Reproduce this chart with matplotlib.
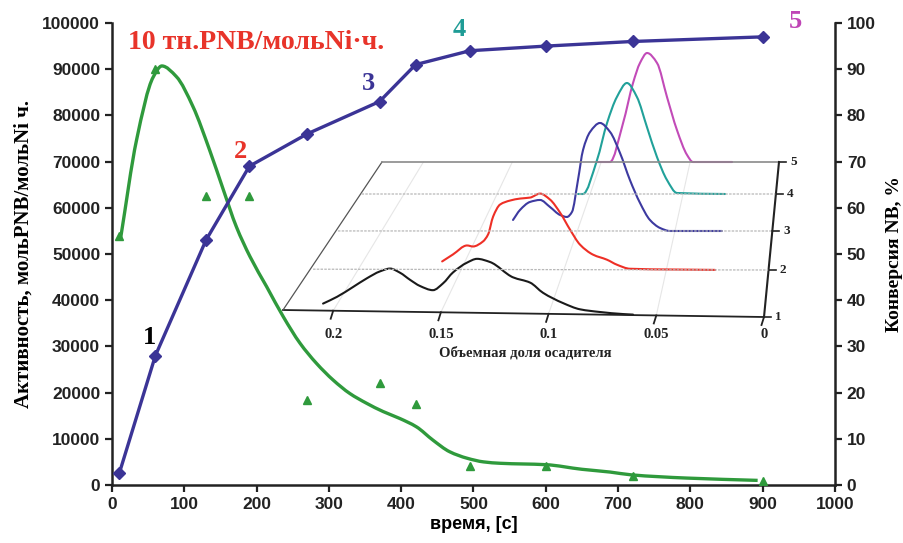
import numpy as np
import matplotlib
matplotlib.use("Agg")
import matplotlib.pyplot as plt
from matplotlib.path import Path
from matplotlib.patches import PathPatch

# ---------------- data ----------------
time_conv = [10, 60, 130, 190, 270, 370, 420, 495, 600, 720, 900]
conversion = [2.5, 28, 53, 69, 76, 83, 91, 94, 95, 96, 97]

time_act = [10, 60, 130, 190, 270, 370, 420, 495, 600, 720, 900]
activity = [54000, 90000, 62500, 62500, 18500, 22000, 17500, 4200, 4200, 2000, 800]

fit_time = [12, 34, 57, 69, 89, 112, 135, 154, 172, 191, 214, 237, 260,
            283, 306, 329, 352, 375, 398, 421, 444, 467, 491, 514, 537, 600, 650,
            689, 718, 795, 893]
fit_activity = [53500, 74700, 88300, 90700, 88400, 81900, 72500, 63900,
                55900, 49400, 42900, 36400, 30700, 26300, 22700, 19800, 17700,
                15900, 14400, 12600, 9700, 7200, 5800, 5000, 4700, 4400, 3400,
                2800, 2200, 1500, 1000]

x_ticks = list(range(0, 1001, 100))
y_ticks_left = list(range(0, 100001, 10000))
y_ticks_right = list(range(0, 101, 10))

# inset (waterfall) data: volume fraction of precipitant vs relative intensity
inset_levels = [1, 2, 3, 4, 5]
inset_ticks = [0.2, 0.15, 0.1, 0.05, 0]
inset_tick_labels = ["0.2", "0.15", "0.1", "0.05", "0"]

frac1 = [0.2047, 0.1982, 0.1908, 0.1843, 0.1783, 0.1736, 0.1690, 0.1643, 0.1597, 0.1537,
         0.1490, 0.1444, 0.1379, 0.1332, 0.1272, 0.1165, 0.1086, 0.1026, 0.0933, 0.0854,
         0.0761, 0.0655, 0.0608]
int1 = [0.07, 0.14, 0.24, 0.33, 0.40, 0.43, 0.39, 0.32, 0.26, 0.22,
        0.29, 0.40, 0.50, 0.54, 0.51, 0.36, 0.31, 0.21, 0.11, 0.05,
        0.026, 0.009, 0.005]

frac2 = [0.1600, 0.1547, 0.1478, 0.1449, 0.1400, 0.1375, 0.1350, 0.1316, 0.1267, 0.1218,
         0.1169, 0.1120, 0.1071, 0.1022, 0.0973, 0.0924, 0.0860, 0.0792, 0.0743, 0.0679,
         0.0262]
int2 = [0.08, 0.15, 0.24, 0.23, 0.28, 0.35, 0.53, 0.65, 0.69, 0.71,
        0.72, 0.76, 0.70, 0.57, 0.40, 0.25, 0.15, 0.10, 0.05, 0.01,
        0.0]

frac3 = [0.1333, 0.1297, 0.1246, 0.1194, 0.1143, 0.1091, 0.1056, 0.1030, 0.0999, 0.0973,
         0.0937, 0.0886, 0.0834, 0.0783, 0.0732, 0.0680, 0.0629, 0.0577, 0.0526, 0.0259]
int3 = [0.11, 0.21, 0.29, 0.31, 0.24, 0.16, 0.14, 0.19, 0.51, 0.81,
        0.99, 1.08, 0.99, 0.78, 0.51, 0.28, 0.11, 0.03, 0.0, 0.0]

frac4 = [0.1067, 0.1040, 0.0964, 0.0910, 0.0857, 0.0803, 0.0749, 0.0695, 0.0641, 0.0587,
         0.0533, 0.0274]
int4 = [0.0, 0.0, 0.34, 0.71, 0.97, 1.11, 0.97, 0.67, 0.37, 0.14,
        0.01, 0.0]

frac5 = [0.1024, 0.0951, 0.0877, 0.0821, 0.0782, 0.0742, 0.0686, 0.0630, 0.0574, 0.0517,
         0.0484, 0.0264]
int5 = [0.0, 0.0, 0.39, 0.79, 0.99, 1.09, 0.99, 0.65, 0.32, 0.07,
        0.0, 0.0]

# ---------------- style ----------------
C_BLUE = "#3b3496"
C_GREEN = "#2f9a3c"
C_RED = "#e8342a"
C_TEAL = "#1f9c96"
C_MAG = "#bf45b6"
SERIF = ["Liberation Serif", "DejaVu Serif"]
SANS = ["Liberation Sans", "DejaVu Sans"]


def _slopes(x, y):
    h = np.diff(x)
    d = np.diff(y) / h
    n = len(x)
    m = np.zeros(n)
    m[0], m[-1] = d[0], d[-1]
    for k in range(1, n - 1):
        if d[k - 1] * d[k] > 0:
            w1 = 2 * h[k] + h[k - 1]
            w2 = h[k] + 2 * h[k - 1]
            m[k] = (w1 + w2) / (w1 / d[k - 1] + w2 / d[k])
    return m


def smooth_patch(xs, ys, **kw):
    """Shape-preserving smoothed line through the given points (cubic Bezier path)."""
    x = np.asarray(xs, float)
    y = np.asarray(ys, float)
    m = _slopes(x, y)
    verts = [(x[0], y[0])]
    codes = [Path.MOVETO]
    for i in range(len(x) - 1):
        dx = (x[i + 1] - x[i]) / 3.0
        verts += [(x[i] + dx, y[i] + m[i] * dx),
                  (x[i + 1] - dx, y[i + 1] - m[i + 1] * dx),
                  (x[i + 1], y[i + 1])]
        codes += [Path.CURVE4] * 3
    return PathPatch(Path(verts, codes), fill=False, **kw)


W, H = 904, 543
fig = plt.figure(figsize=(W / 100, H / 100), dpi=100)

L, R, T, B = 112, 835, 23, 485
ax = fig.add_axes([L / W, 1 - B / H, (R - L) / W, (B - T) / H])
ax2 = ax.twinx()

ax.set_xlim(0, 1000)
ax.set_ylim(0, 100000)
ax2.set_ylim(0, 100)
ax.set_xticks(x_ticks)
ax.set_yticks(y_ticks_left)
ax2.set_yticks(y_ticks_right)
ax.set_xticklabels([str(v) for v in x_ticks])
ax.set_yticklabels([str(v) for v in y_ticks_left])
ax2.set_yticklabels([str(v) for v in y_ticks_right])

for a in (ax, ax2):
    a.spines["top"].set_visible(False)
    for s in ("left", "right", "bottom"):
        a.spines[s].set_linewidth(1.8)
        a.spines[s].set_color("#222222")
    a.tick_params(direction="out", length=5, width=1.6, colors="#222222",
                  labelsize=12.5)
    for lab in a.get_xticklabels() + a.get_yticklabels():
        lab.set_fontfamily(SANS)
        lab.set_fontweight("bold")
ax.spines["right"].set_visible(False)
ax2.spines["left"].set_visible(False)
ax2.spines["bottom"].set_visible(False)

ax.set_xlabel("время, [с]", fontsize=13, fontweight="bold", family=SANS, labelpad=3)
ax.set_ylabel("Активность, мольPNB/мольNi ч.", fontsize=15, fontweight="bold",
              family=SERIF, labelpad=6)
ax2.set_ylabel("Конверсия NB, %", fontsize=14, fontweight="bold", family=SERIF,
               labelpad=7)

# activity
ax.add_patch(smooth_patch(fit_time, fit_activity, edgecolor=C_GREEN, lw=2.4, zorder=3))
ax.plot(time_act, activity, linestyle="none", marker="^", ms=6, color=C_GREEN, zorder=4)
# conversion
ax2.plot(time_conv, conversion, color=C_BLUE, lw=2.4, marker="D", ms=6, zorder=5)

# annotations
ax.text(52, 32000, "1", color="black", fontsize=19, fontweight="bold", family=SERIF,
        ha="center", va="center")
ax.text(178, 72200, "2", color=C_RED, fontsize=19, fontweight="bold", family=SERIF,
        ha="center", va="center")
ax.text(355, 87000, "3", color=C_BLUE, fontsize=19, fontweight="bold", family=SERIF,
        ha="center", va="center")
ax.text(480, 98500, "4", color=C_TEAL, fontsize=19, fontweight="bold", family=SERIF,
        ha="center", va="center", clip_on=False)
ax.text(945, 100300, "5", color=C_MAG, fontsize=19, fontweight="bold", family=SERIF,
        ha="center", va="center", clip_on=False)
ax.text(22, 95700, "10 тн.PNB/мольNi·ч.", color=C_RED, fontsize=20, fontweight="bold",
        family=SERIF, ha="left", va="center")

# ---------------- inset: pseudo-3D waterfall ----------------
ov = fig.add_axes([0, 0, 1, 1], zorder=10)
ov.set_xlim(0, W)
ov.set_ylim(H, 0)
ov.axis("off")
ov.patch.set_alpha(0)

# floor geometry (pixels)
FLx, FLy = 283, 310
FRx, FRy = 764, 317
BLx, BRx, BY = 382, 779, 162
XMAX = 0.2233
level_y = {1: 317, 2: 270, 3: 231, 4: 194, 5: 162}
HSCALE = 100.0
TICK_LABEL_Y = 334


def depth(level):
    return (FRy - level_y[level]) / (FRy - BY)


def proj(v, level, h=0.0):
    t = depth(level)
    left = FLx + (BLx - FLx) * t
    right = FRx + (BRx - FRx) * t
    v = np.asarray(v, dtype=float)
    px = right - v / XMAX * (right - left)
    u = (px - left) / (right - left)
    base = level_y[level] - (FRy - FLy) * (1 - u) * (1 - t) ** 6
    return px, base - np.asarray(h, dtype=float) * HSCALE


# floor frame
x0, y0 = proj(XMAX, 1)
x1, y1 = proj(0, 1)
x2, y2 = proj(0, 5)
x3, y3 = proj(XMAX, 5)
ov.plot([x0, x1], [y0, y1], color="#222222", lw=1.3)
ov.plot([x0, x3], [y0, y3], color="#555555", lw=0.9)
ov.plot([x3, x2], [y3, y2], color="#8a8a8a", lw=1.2)
ov.plot([x1, x2], [y1, y2], color="#222222", lw=1.5)

# level grid lines
for lv in inset_levels[1:4]:
    gx, gy = proj(np.array([XMAX, 0.0]), lv)
    ov.plot(gx, gy, color="#b8b8b8", lw=0.9, ls=(0, (2, 1)))

# faint depth lines and front ticks
for tv, tl in zip(inset_ticks, inset_tick_labels):
    fx, fy = proj(tv, 1)
    bx, by = proj(tv, 5)
    if tv > 0:
        ov.plot([fx, bx], [fy, by], color="#e6e6e6", lw=0.8, zorder=0)
    ov.plot([fx, fx - 2.5], [fy, fy + 8], color="#222222", lw=1.3)
    ov.text(fx, TICK_LABEL_Y, tl, fontsize=10.5, fontweight="bold", family=SERIF,
            ha="center", va="center", color="#222222")

# depth ticks / labels
for lv in inset_levels:
    rx, ry = proj(0, lv)
    ov.plot([rx, rx + 7], [ry, ry], color="#222222", lw=1.2)
    ov.text(rx + 11, ry, str(lv), fontsize=9.5, fontweight="bold", family=SERIF,
            ha="left", va="center", color="#222222")

ov.text(525, 353, "Объемная доля осадителя", fontsize=10.5, fontweight="bold",
        family=SERIF, ha="center", va="center", color="#222222")

curves = [(frac1, int1, 1, "#1a1a1a"), (frac2, int2, 2, "#ee2f26"),
          (frac3, int3, 3, "#3d3aa0"), (frac4, int4, 4, "#21a19a"),
          (frac5, int5, 5, "#c24bb8")]
for fr, it, lv, col in reversed(curves):
    cx, cy = proj(fr, lv, it)
    ov.add_patch(smooth_patch(cx, cy, edgecolor=col, lw=1.5, capstyle="round"))

fig.savefig("out.png", dpi=100)
